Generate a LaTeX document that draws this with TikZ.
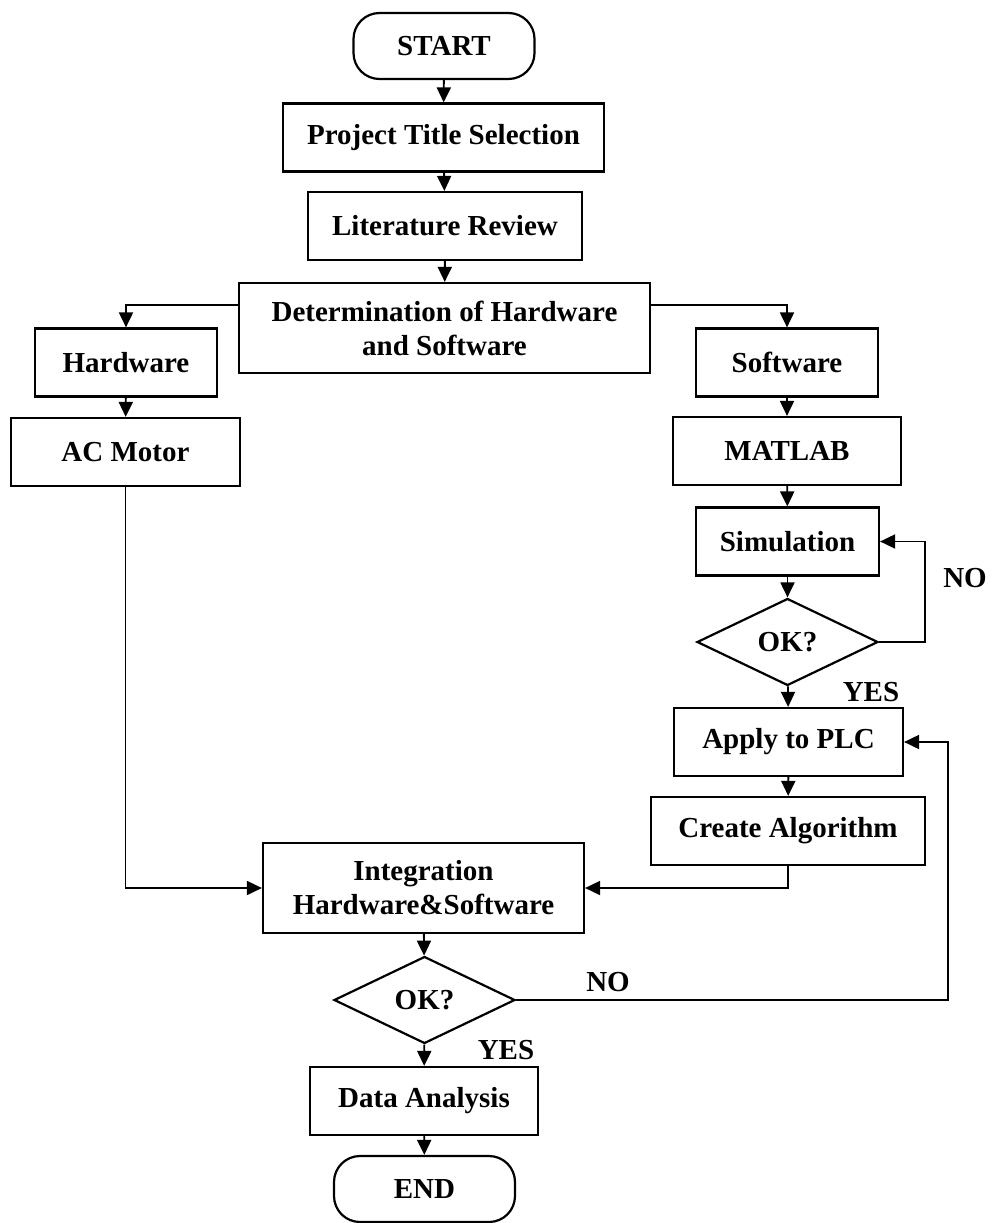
\documentclass[tikz,border=0pt]{standalone}
\usepackage{fontspec}
\setmainfont{Liberation Serif}
\usetikzlibrary{shapes.geometric,arrows.meta}

\begin{document}
\begin{tikzpicture}[x=1pt, y=-1pt,
    every node/.style={font=\bfseries\fontsize{29}{34}\selectfont, align=center, inner sep=0pt},
    box/.style={draw, line width=2.2pt, minimum height=68pt},
    term/.style={draw, line width=2.2pt, rounded corners=26pt, minimum width=181pt, minimum height=66pt},
    decision/.style={draw, diamond, line width=2.2pt, minimum width=181pt, minimum height=87pt, aspect=2.1},
    conn/.style={line width=1.9pt, -{Triangle[length=15pt,width=14pt]}}]
            \useasboundingbox (0,0) rectangle (994,1223);

            % Main column
            \node[term] (start) at (444,46) {START};
            \node[box, minimum width=321pt] (title) at (443.5,137.5) {Project Title Selection};
            \node[box, minimum width=274pt] (lit) at (445,226) {Literature Review};
            \node[box, minimum width=411pt, minimum height=90pt] (det) at (444.5,328) {Determination of Hardware\\and Software};

            % Hardware branch
            \node[box, minimum width=182pt] (hw) at (126,362.5) {Hardware};
            \node[box, minimum width=229pt] (acm) at (125.5,452) {AC Motor};

            % Software branch
            \node[box, minimum width=182pt] (sw) at (787,362.5) {Software};
            \node[box, minimum width=228pt] (mat) at (787,451) {MATLAB};
            \node[box, minimum width=183pt] (sim) at (787.5,541.5) {Simulation};
            \node[decision] (ok1) at (787.5,642) {OK?};
            \node[box, minimum width=229pt] (plc) at (788.5,742) {Apply to PLC};
            \node[box, minimum width=274pt] (alg) at (788,831) {Create Algorithm};

            % Integration and end
            \node[box, minimum width=321pt, minimum height=90pt] (integ) at (423.5,888) {Integration\\Hardware\&Software};
            \node[decision] (ok2) at (424.5,1000) {OK?};
            \node[box, minimum width=228pt] (data) at (424,1101) {Data Analysis};
            \node[term] (finish) at (424.5,1189) {END};

            % Labels
            \node (no1) at (965,578) {NO};
            \node (yes1) at (871,692) {YES};
            \node (no2) at (608,982) {NO};
            \node (yes2) at (506,1050) {YES};

            % Edges for main column
            \draw[conn] (start) -- (title);
            \draw[conn] (title) -- (lit);
            \draw[conn] (lit) -- (det);
            \draw[conn] ([yshift=23pt]det.west) -| (hw.north);
            \draw[conn] ([yshift=23pt]det.east) -| (sw.north);

            % Edges for hardware
            \draw[conn] (hw) -- (acm);
            \draw[conn] (acm.south) |- (integ.west);

            % Edges for software
            \draw[conn] (sw) -- (mat);
            \draw[conn] (mat) -- (sim);
            \draw[conn] (sim) -- (ok1);
            \draw[conn] (ok1) -- (plc);
            \draw[conn] (ok1.east) -- ++(46,0) |- (sim.east);
            \draw[conn] (plc) -- (alg);
            \draw[conn] (alg.south) |- (integ.east);

            % Edges for integration
            \draw[conn] (integ) -- (ok2);
            \draw[conn] (ok2.east) -- ++(432,0) |- (plc.east);
            \draw[conn] (ok2) -- (data);
            \draw[conn] (data) -- (finish);
          \end{tikzpicture}
\end{document}
